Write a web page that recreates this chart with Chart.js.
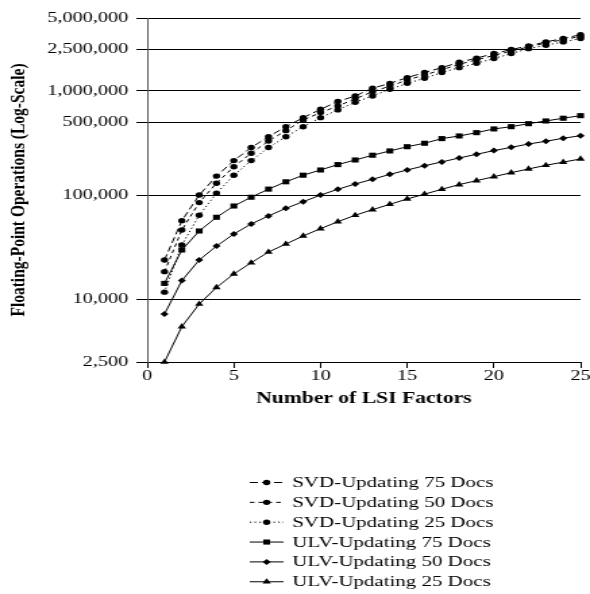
<!DOCTYPE html>
<html>
<head>
<meta charset="utf-8">
<script src="https://cdn.jsdelivr.net/npm/chart.js@4"></script>
<style>
  html, body { margin:0; padding:0; background:#fff; }
</style>
</head>
<body>
<!-- the reference is stretched sideways, so the canvas is drawn narrow and widened by its inline style -->
<canvas id="flopChart" width="437" height="594" style="display:block;width:590px;height:594px"></canvas>
<script>
const factors = [1,2,3,4,5,6,7,8,9,10,11,12,13,14,15,16,17,18,19,20,21,22,23,24,25]
const svd75 = [23800,56800,100000,152000,214000,286000,363000,453000,553000,665000,789000,893000,1060000,1180000,1340000,1500000,1670000,1880000,2060000,2280000,2490000,2700000,2950000,3180000,3460000]
const svd50 = [18400,46200,84600,130000,187000,252000,330000,415000,525000,618000,716000,836000,982000,1110000,1270000,1420000,1590000,1800000,1980000,2190000,2410000,2640000,2880000,3100000,3330000]
const svd25 = [11700,33200,64000,104000,155000,214000,286000,363000,453000,553000,656000,777000,893000,1035000,1180000,1320000,1500000,1670000,1840000,2040000,2280000,2540000,2740000,2950000,3180000]
const ulv75 = [14200,29700,45200,61200,78500,95300,114000,134000,155000,174000,196000,217000,241000,265000,291000,314000,348000,369000,397000,431000,453000,484000,514000,546000,578000]
const ulv50 = [7220,15100,23800,32400,42300,52800,63000,74600,86300,100000,113600,127700,141700,158000,174000,191000,208000,227000,246000,267000,287000,309000,328000,351000,371000]
const ulv25 = [2500,5460,9000,13000,17500,22400,28400,33900,40500,47600,55500,64000,72400,81500,91700,102000,113600,126000,137500,150000,164000,178000,193000,207000,222000]
const yTicks = [2500,10000,100000,500000,1000000,2500000,5000000]

const font = "'Liberation Serif', 'Times New Roman', serif"

function series(label, values, style, radius, dash){
    return {
        label: label,
        data: factors.map((f,i) => ({x:f, y:values[i]})),
        borderColor:'#000',
        backgroundColor:'#000',
        borderWidth:1,
        borderDash:dash,
        pointStyle:style,
        pointRadius:radius,
        pointHoverRadius:radius,
        pointBorderWidth:0,
        tension:0,
        clip:false
    }
}

// legend drawn under the plot, line sample + marker + text
const bottomLegend = {
    id:'bottomLegend',
    afterDraw(chart){
        const ctx = chart.ctx
        ctx.save()
        chart.data.datasets.forEach((ds, i) => {
            const y = 482.5 + i*19.85
            ctx.strokeStyle = '#000'
            ctx.lineWidth = 1
            ctx.setLineDash(ds.borderDash || [])
            ctx.beginPath()
            ctx.moveTo(185, y)
            ctx.lineTo(210, y)
            ctx.stroke()
            ctx.setLineDash([])
            ctx.fillStyle = '#000'
            Chart.helpers.drawPoint(ctx, {pointStyle:ds.pointStyle, radius:ds.pointRadius, borderWidth:0}, 197.5, y)
            ctx.font = '15.5px ' + font
            ctx.textBaseline = 'middle'
            ctx.fillText(ds.label, 216.5, y + 0.5)
        })
        ctx.restore()
    }
}

const chart = new Chart(document.getElementById('flopChart').getContext('2d'), {
    type:'line',
    data:{
        datasets:[
            series('SVD-Updating 75 Docs', svd75, 'circle', 2.7, [6,3]),
            series('SVD-Updating 50 Docs', svd50, 'circle', 2.7, [3.5,3]),
            series('SVD-Updating 25 Docs', svd25, 'circle', 2.7, [1.2,2.3]),
            series('ULV-Updating 75 Docs', ulv75, 'rect', 3.6, []),
            series('ULV-Updating 50 Docs', ulv50, 'rectRot', 3.0, []),
            series('ULV-Updating 25 Docs', ulv25, 'triangle', 3.6, [])
        ]
    },
    options:{
        responsive:false,
        devicePixelRatio:1,
        animation:false,
        layout:{ padding:{ left:0, right:7, top:18, bottom:184 } },
        plugins:{ legend:{ display:false }, tooltip:{ enabled:false } },
        scales:{
            x:{
                type:'linear',
                min:0,
                max:25,
                ticks:{ stepSize:5, color:'#000', padding:-1, maxRotation:0, font:{ family:font, size:15 } },
                grid:{ drawOnChartArea:false, drawTicks:true, tickLength:6, color:'#000' },
                border:{ color:'#000', width:1 },
                title:{ display:true, text:'Number of LSI Factors', color:'#000',
                        font:{ family:font, size:16, weight:'bold' }, padding:{ top:0, bottom:2 } },
                afterFit(scale){ scale.height = 48 }
            },
            y:{
                type:'logarithmic',
                min:2500,
                max:5000000,
                afterBuildTicks(scale){ scale.ticks = yTicks.map(v => ({value:v})) },
                ticks:{ color:'#000', padding:6, font:{ family:font, size:15 },
                        callback:(v) => Number(v).toLocaleString('en-US') },
                grid:{ color:'#000', lineWidth:1, tickLength:8 },
                border:{ color:'#555', width:1 },
                title:{ display:true, text:'Floating-Point Operations (Log-Scale)', color:'#000',
                        font:{ family:font, size:15.5, weight:'bold' }, padding:{ top:5, bottom:0 } },
                afterFit(scale){ scale.width = 109 }
            }
        }
    },
    plugins:[bottomLegend]
})
</script>
</body>
</html>
